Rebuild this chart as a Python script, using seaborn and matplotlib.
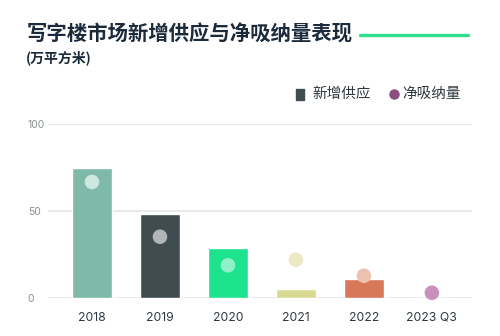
import matplotlib
matplotlib.use("Agg")
import matplotlib.pyplot as plt
import seaborn as sns
import pandas as pd
from matplotlib.lines import Line2D
from matplotlib.patches import Rectangle

categories = ["2018", "2019", "2020", "2021", "2022", "2023 Q3"]
new_supply = [75, 48, 29, 5, 11, 0]
net_absorption = [66.7, 35.2, 18.8, 22, 12.8, 3]
bar_colors = ["#7fb9a9", "#3f4c50", "#1de38e", "#d8d993", "#d97858", "#c98fbd"]
dot_colors = ["#cde8df", "#b3b6b8", "#8ef1c7", "#ede9c4", "#ecc3b0", "#c98fbd"]

sns.set_theme(style="white")
plt.rcParams['font.family'] = ['Noto Sans CJK SC', 'DejaVu Sans']

df = pd.DataFrame({"cat": categories, "supply": new_supply, "absorb": net_absorption})

fig = plt.figure(figsize=(5, 3.36), dpi=100)
ax = fig.add_axes([0.096, 1 - 298 / 336, 0.848, (298 - 124) / 336])

sns.barplot(data=df, x="cat", y="supply", hue="cat", palette=bar_colors,
            width=0.6, legend=False, ax=ax, saturation=1, zorder=2)
sns.scatterplot(data=df, x="cat", y="absorb", hue="cat", palette=dot_colors,
                s=110, edgecolor="none", legend=False, ax=ax, zorder=3, clip_on=False)

ax.set_xlim(-0.647, 5.59)
ax.set_ylim(0, 100)
ax.set_yticks([0, 50, 100])
ax.yaxis.grid(True, color="#e4e6e6", linewidth=1.2, zorder=0)
ax.set_axisbelow(True)
for s in ax.spines.values():
    s.set_visible(False)
ax.set_xlabel("")
ax.set_ylabel("")
ax.tick_params(axis="y", length=0, pad=14.5, labelsize=7.5, labelcolor="#8a8f92")
ax.tick_params(axis="x", length=0, pad=10, labelsize=8.8, labelcolor="#2f3a3f")
for lab in ax.get_yticklabels():
    lab.set_horizontalalignment("left")
    lab.set_family(["Inter", "DejaVu Sans"])
for lab in ax.get_xticklabels():
    lab.set_family(["Inter", "DejaVu Sans"])

# Title block
fig.text(27 / 500, 1 - 34 / 336, "写字楼市场新增供应与净吸纳量表现", fontsize=14.7,
         fontweight="bold", color="#1b2b3b", va="center", ha="left")
fig.add_artist(Line2D([360 / 500, 468 / 500], [1 - 35 / 336, 1 - 35 / 336],
                      color="#2ee08c", linewidth=2.4, transform=fig.transFigure))
fig.text(26 / 500, 1 - 58 / 336, "(万平方米)", fontsize=10, fontweight="bold",
         color="#1b2b3b", va="center", ha="left")

# Legend
fig.add_artist(Rectangle((296 / 500, 1 - 100 / 336), 8 / 500, 11 / 336,
                         color="#3f4c50", transform=fig.transFigure))
fig.text(312 / 500, 1 - 94 / 336, "新增供应", fontsize=10.5, color="#2f3a3f",
         va="center", ha="left")
fig.add_artist(Line2D([393.5 / 500], [1 - 94 / 336], marker="o", markersize=6.5,
                      color="#8b4f7d", transform=fig.transFigure))
fig.text(402 / 500, 1 - 94 / 336, "净吸纳量", fontsize=10.5, color="#2f3a3f",
         va="center", ha="left")

fig.savefig("out.png", dpi=100)
